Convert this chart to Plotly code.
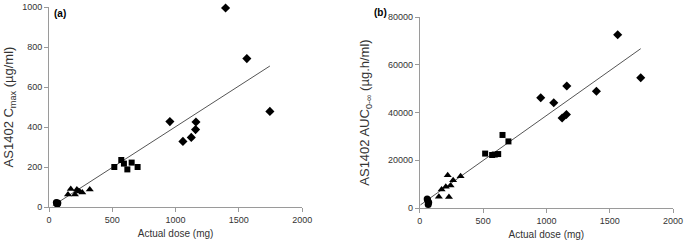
import plotly.graph_objects as go
from plotly.subplots import make_subplots

# ---- data ----
circle_dose = [58, 62, 66, 70]
circle_cmax = [22, 18, 15, 20]
circle_auc = [3800, 3200, 1500, 2300]

tri_dose = [150, 172, 205, 220, 230, 243, 263, 322]
tri_cmax = [62, 90, 63, 88, 80, 78, 73, 88]
tri_auc = [4700, 7700, 8900, 13700, 4600, 9400, 11600, 13300]

sq_dose = [516, 571, 592, 619, 653, 700]
sq_cmax = [200, 235, 217, 188, 222, 200]
sq_auc = [22800, 22200, 22400, 22600, 30600, 27900]

dia_dose = [955, 1058, 1124, 1158, 1161, 1395, 1563, 1745]
dia_cmax = [427, 328, 348, 387, 425, 995, 742, 478]
dia_auc = [46200, 44100, 37700, 39200, 51100, 48900, 72600, 54600]

trend_a_x = [30, 1745]
trend_a_y = [6, 705]
trend_b_x = [5, 1745]
trend_b_y = [1300, 66750]

x_ticks = [0, 500, 1000, 1500, 2000]
ya_ticks = [0, 200, 400, 600, 800, 1000]
yb_ticks = [0, 20000, 40000, 60000, 80000]

FONT = "Liberation Sans, Arial, sans-serif"
TXT = "#333333"
AX = "#9a9a9a"

fig = make_subplots(rows=1, cols=2)

groups = [
    (circle_dose, circle_cmax, circle_auc, "circle", 7),
    (tri_dose, tri_cmax, tri_auc, "triangle-up", 7),
    (sq_dose, sq_cmax, sq_auc, "square", 6),
    (dia_dose, dia_cmax, dia_auc, "diamond", 7),
]

fig.add_trace(go.Scatter(x=trend_a_x, y=trend_a_y, mode="lines",
                         line=dict(color="#555555", width=1), showlegend=False), 1, 1)
fig.add_trace(go.Scatter(x=trend_b_x, y=trend_b_y, mode="lines",
                         line=dict(color="#555555", width=1), showlegend=False), 1, 2)

for dose, cmax, auc, sym, sz in groups:
    fig.add_trace(go.Scatter(x=dose, y=cmax, mode="markers", cliponaxis=False,
                             marker=dict(symbol=sym, size=sz, color="black", line=dict(width=0)),
                             showlegend=False), 1, 1)
    fig.add_trace(go.Scatter(x=dose, y=auc, mode="markers", cliponaxis=False,
                             marker=dict(symbol=sym, size=sz, color="black", line=dict(width=0)),
                             showlegend=False), 1, 2)

axis_common = dict(showgrid=False, zeroline=False, showline=True, linecolor=AX, linewidth=1,
                   ticks="outside", tickcolor=AX, ticklen=4, automargin=False,
                   tickfont=dict(family=FONT, size=9, color=TXT))

fig.update_xaxes(range=[0, 2000], tickvals=x_ticks, **axis_common)
fig.update_xaxes(title=dict(text="Actual dose (mg)", font=dict(family=FONT, size=10, color=TXT), standoff=6))

fig.update_yaxes(range=[0, 1000], tickvals=ya_ticks, tickformat="d", row=1, col=1, **axis_common)
fig.update_yaxes(range=[0, 80000], tickvals=yb_ticks, tickformat="d", row=1, col=2, **axis_common)
fig.update_yaxes(title=dict(text="AS1402 C<sub>max</sub> (µg/ml)", font=dict(family=FONT, size=13, color=TXT), standoff=5), row=1, col=1)
fig.update_yaxes(title=dict(text="AS1402 AUC<sub>0-∞</sub> (µg.h/ml)", font=dict(family=FONT, size=13, color=TXT), standoff=15), row=1, col=2)

fig.update_layout(
    width=685, height=247,
    margin=dict(l=49, r=12, t=7, b=39),
    paper_bgcolor="white", plot_bgcolor="white",
    xaxis=dict(domain=[0, 0.4057]),
    xaxis2=dict(domain=[0.5943, 1]),
    yaxis=dict(domain=[0.005, 1]),
    yaxis2=dict(domain=[0, 0.95]),
    annotations=[
        dict(text="<b>(a)</b>", x=3 / 685, y=1 - 8 / 247, xref="paper", yref="paper",
             xanchor="left", yanchor="middle", showarrow=False,
             font=dict(family=FONT, size=10, color="black")),
        dict(text="<b>(b)</b>", x=355 / 685, y=1 - 7 / 247, xref="paper", yref="paper",
             xanchor="left", yanchor="middle", showarrow=False,
             font=dict(family=FONT, size=10, color="black")),
    ],
)

fig.write_html("out.html", config={"displayModeBar": False},
               post_script="document.body.style.margin='0';document.body.style.overflow='hidden';")
